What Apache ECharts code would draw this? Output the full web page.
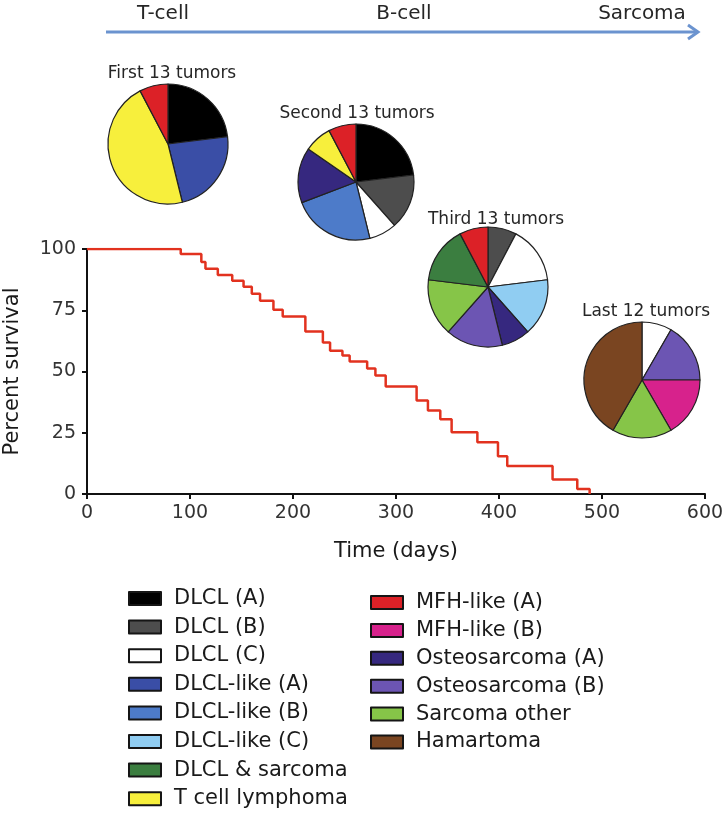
<!DOCTYPE html>
<html><head><meta charset="utf-8">
<script src="https://cdn.jsdelivr.net/npm/echarts@6/dist/echarts.min.js"></script>
<style>html,body{margin:0;padding:0;background:#fff}#c{width:722px;height:814px}</style>
</head><body><div id="c"></div><script>
// ---- survival curve (days, percent surviving) ----
const days = [0, 91, 111, 115, 127, 141, 152, 160, 168, 181, 190, 212, 229, 236, 248, 255, 272, 280, 290, 320, 331, 343, 354, 379, 399, 408, 452, 476, 488];
const survival = [100, 98.0, 94.7, 91.9, 89.4, 87.0, 84.6, 81.7, 78.9, 75.2, 72.4, 66.3, 61.8, 58.5, 56.5, 54.1, 51.2, 48.4, 43.9, 38.2, 34.1, 30.5, 25.2, 21.1, 15.4, 11.4, 5.9, 2.0, 0];
const xTicks = [0, 100, 200, 300, 400, 500, 600];
const yTicks = [0, 25, 50, 75, 100];

// ---- tumor categories ----
const categories = ['DLCL (A)', 'DLCL (B)', 'DLCL (C)', 'DLCL-like (A)', 'DLCL-like (B)', 'DLCL-like (C)', 'DLCL & sarcoma', 'T cell lymphoma',
  'MFH-like (A)', 'MFH-like (B)', 'Osteosarcoma (A)', 'Osteosarcoma (B)', 'Sarcoma other', 'Hamartoma'];
const categoryColors = ['#000000', '#4d4d4d', '#ffffff', '#3a4ea6', '#4d7bc9', '#90cdf2', '#3b7e40', '#f7ef3c',
  '#dc2127', '#d7228c', '#36287f', '#6c55b3', '#86c548', '#7a4521'];

// ---- pies (clockwise from 12 o'clock) ----
const pieTitles = ['First 13 tumors', 'Second 13 tumors', 'Third 13 tumors', 'Last 12 tumors'];
const pie1Names = ['DLCL (A)', 'DLCL-like (A)', 'T cell lymphoma', 'MFH-like (A)'];
const pie1Counts = [3, 3, 6, 1];
const pie2Names = ['DLCL (A)', 'DLCL (B)', 'DLCL (C)', 'DLCL-like (B)', 'Osteosarcoma (A)', 'T cell lymphoma', 'MFH-like (A)'];
const pie2Counts = [3, 2, 1, 3, 2, 1, 1];
const pie3Names = ['DLCL (B)', 'DLCL (C)', 'DLCL-like (C)', 'Osteosarcoma (A)', 'Osteosarcoma (B)', 'Sarcoma other', 'DLCL & sarcoma', 'MFH-like (A)'];
const pie3Counts = [1, 2, 2, 1, 2, 2, 2, 1];
const pie4Names = ['DLCL (C)', 'Osteosarcoma (B)', 'MFH-like (B)', 'Sarcoma other', 'Hamartoma'];
const pie4Counts = [1, 2, 2, 2, 5];

// ---- lineage arrow labels ----
const stageLabels = ['T-cell', 'B-cell', 'Sarcoma'];

const FONT = 'DejaVu Sans';
const colorOf = n => categoryColors[categories.indexOf(n)];
const pieNames = [pie1Names, pie2Names, pie3Names, pie4Names];
const pieCounts = [pie1Counts, pie2Counts, pie3Counts, pie4Counts];
const pieLayout = [
  { c: [168, 144], r: 60, t: [167, 60] },
  { c: [356, 182], r: 58, t: [352, 100] },
  { c: [488, 287], r: 60, t: [491, 206] },
  { c: [642, 380], r: 58, t: [641, 298] }
];
const stageX = [163, 404, 642];

const chart = echarts.init(document.getElementById('c'), null, { renderer: 'canvas' });

const pieSeries = pieNames.map((names, i) => ({
  type: 'pie',
  center: pieLayout[i].c,
  radius: [0, pieLayout[i].r],
  startAngle: 90,
  clockwise: true,
  silent: true,
  label: { show: false },
  labelLine: { show: false },
  itemStyle: { borderColor: '#222', borderWidth: 1.2 },
  data: names.map((n, k) => ({ name: n, value: pieCounts[i][k], itemStyle: { color: colorOf(n) } })),
  z: 5
}));

const legendBase = {
  orient: 'vertical', icon: 'rect', itemWidth: 32, itemHeight: 13,
  height: 240, selectedMode: false,
  itemStyle: { borderColor: '#151515', borderWidth: 2 },
  textStyle: { fontFamily: FONT, fontSize: 21, color: '#1a1a1a', lineHeight: 21, padding: [0, 0, 0, 8] }
};

const option = {
  animation: false,
  backgroundColor: '#fff',
  textStyle: { fontFamily: FONT },
  title: pieTitles.map((t, i) => ({
    text: t,
    left: pieLayout[i].t[0], top: pieLayout[i].t[1],
    textAlign: 'center',
    textStyle: { fontFamily: FONT, fontSize: 17, fontWeight: 'normal', color: '#262626' }
  })),
  grid: { left: 87, right: 17, top: 249, bottom: 320, containLabel: false, outerBoundsMode: 'none' },
  xAxis: {
    type: 'value', min: xTicks[0], max: xTicks[xTicks.length - 1], interval: xTicks[1] - xTicks[0],
    name: 'Time (days)', nameLocation: 'middle', nameGap: 47,
    nameTextStyle: { fontFamily: FONT, fontSize: 21, color: '#1a1a1a' },
    axisLine: { show: true, lineStyle: { color: '#111', width: 2 } },
    axisTick: { show: true, length: 5, lineStyle: { color: '#111', width: 2 } },
    axisLabel: { fontFamily: FONT, fontSize: 19, color: '#333', margin: 10 },
    splitLine: { show: false }
  },
  yAxis: {
    type: 'value', min: yTicks[0], max: yTicks[yTicks.length - 1], interval: yTicks[1] - yTicks[0],
    name: 'Percent survival', nameLocation: 'middle', nameGap: 64, nameRotate: 90,
    nameTextStyle: { fontFamily: FONT, fontSize: 21, color: '#1a1a1a' },
    axisLine: { show: true, lineStyle: { color: '#111', width: 2 } },
    axisTick: { show: true, length: 5, lineStyle: { color: '#111', width: 2 } },
    axisLabel: { fontFamily: FONT, fontSize: 19, color: '#333', margin: 11 },
    splitLine: { show: false }
  },
  legend: [
    Object.assign({ data: categories.slice(0, 8), left: 123, top: 583, itemGap: 7.6 }, legendBase),
    Object.assign({ data: categories.slice(8), left: 365, top: 587, itemGap: 6.9 }, legendBase)
  ],
  graphic: [
    {
      type: 'line', shape: { x1: 106, y1: 32, x2: 698, y2: 32 },
      style: { stroke: '#6b93cf', lineWidth: 3 }
    },
    {
      type: 'polyline', shape: { points: [[688, 25], [698, 32], [688, 39]] },
      style: { stroke: '#6b93cf', lineWidth: 3, fill: null }
    }
  ].concat(stageLabels.map((s, i) => ({
    type: 'text', x: stageX[i], y: 14,
    style: { text: s, fontFamily: FONT, fontSize: 20, fill: '#262626', align: 'center', verticalAlign: 'middle' }
  }))),
  series: [
    {
      type: 'line', step: 'end', symbol: 'none', silent: true,
      lineStyle: { color: '#e2321f', width: 2.5 },
      data: days.map((d, i) => [d, survival[i]]),
      z: 3
    }
  ].concat(pieSeries)
};
chart.setOption(option);
</script></body></html>
